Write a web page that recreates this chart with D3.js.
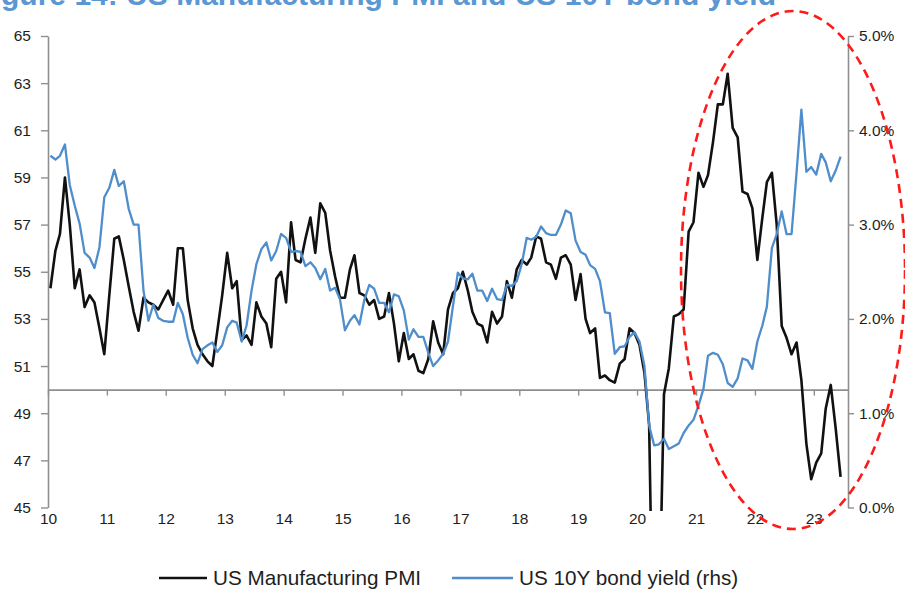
<!DOCTYPE html>
<html>
<head>
<meta charset="utf-8">
<script src="https://cdn.jsdelivr.net/npm/d3@7"></script>
<style>
  body { margin: 0; background: #fff; }
  svg { display: block; }
  .tick text, .lbl { font-family: "Liberation Sans", Arial, sans-serif; fill: #1e1e1e; }
</style>
</head>
<body>
<svg id="chart" width="905" height="592"></svg>
<script>
// Monthly series, Jan 2010 – Jun 2023
const firstYear = 2010;

// US Manufacturing PMI (index)
const pmi = [
  54.3, 55.9, 56.6, 59.0, 57.0, 54.3, 55.1, 53.5, 54.0, 53.7, 52.6, 51.5, // 2010
  54.0, 56.4, 56.5, 55.5, 54.4, 53.3, 52.5, 53.9, 53.7, 53.6, 53.4, 53.8, // 2011
  54.2, 53.6, 56.0, 56.0, 53.8, 52.6, 51.9, 51.5, 51.2, 51.0, 52.5, 54.0, // 2012
  55.8, 54.3, 54.6, 52.1, 52.3, 51.9, 53.7, 53.1, 52.8, 51.8, 54.7, 55.0, // 2013
  53.7, 57.1, 55.5, 55.4, 56.4, 57.3, 55.8, 57.9, 57.5, 55.9, 54.8, 53.9, // 2014
  53.9, 55.1, 55.7, 54.1, 54.0, 53.6, 53.8, 53.0, 53.1, 54.1, 52.8, 51.2, // 2015
  52.4, 51.3, 51.5, 50.8, 50.7, 51.3, 52.9, 52.0, 51.5, 53.4, 54.1, 54.3, // 2016
  55.0, 54.2, 53.3, 52.8, 52.7, 52.0, 53.3, 52.8, 53.1, 54.6, 53.9, 55.1, // 2017
  55.5, 55.3, 55.6, 56.5, 56.4, 55.4, 55.3, 54.7, 55.6, 55.7, 55.3, 53.8, // 2018
  54.9, 53.0, 52.4, 52.6, 50.5, 50.6, 50.4, 50.3, 51.1, 51.3, 52.6, 52.4, // 2019
  51.9, 50.7, 48.5, 36.1, 39.8, 49.8, 50.9, 53.1, 53.2, 53.4, 56.7, 57.1, // 2020
  59.2, 58.6, 59.1, 60.5, 62.1, 62.1, 63.4, 61.1, 60.7, 58.4, 58.3, 57.7, // 2021
  55.5, 57.3, 58.8, 59.2, 57.0, 52.7, 52.2, 51.5, 52.0, 50.4, 47.7, 46.2, // 2022
  46.9, 47.3, 49.2, 50.2, 48.4, 46.3                                      // 2023
];

// US 10Y Treasury yield (%, monthly average)
const bondYield = [
  3.73, 3.69, 3.73, 3.85, 3.42, 3.20, 3.01, 2.70, 2.65, 2.54, 2.76, 3.29, // 2010
  3.39, 3.58, 3.41, 3.46, 3.17, 3.00, 3.00, 2.30, 1.98, 2.15, 2.01, 1.98, // 2011
  1.97, 1.97, 2.17, 2.05, 1.80, 1.62, 1.53, 1.68, 1.72, 1.75, 1.65, 1.72, // 2012
  1.91, 1.98, 1.96, 1.76, 1.93, 2.30, 2.58, 2.74, 2.81, 2.62, 2.72, 2.90, // 2013
  2.86, 2.71, 2.72, 2.71, 2.56, 2.60, 2.54, 2.42, 2.53, 2.30, 2.33, 2.21, // 2014
  1.88, 1.98, 2.04, 1.94, 2.20, 2.36, 2.32, 2.17, 2.17, 2.07, 2.26, 2.24, // 2015
  2.09, 1.78, 1.89, 1.81, 1.81, 1.64, 1.50, 1.56, 1.63, 1.76, 2.14, 2.49, // 2016
  2.43, 2.42, 2.48, 2.30, 2.30, 2.19, 2.32, 2.21, 2.20, 2.36, 2.35, 2.40, // 2017
  2.58, 2.86, 2.84, 2.87, 2.98, 2.91, 2.89, 2.89, 3.00, 3.15, 3.12, 2.83, // 2018
  2.71, 2.68, 2.57, 2.53, 2.40, 2.07, 2.06, 1.63, 1.70, 1.71, 1.81, 1.86, // 2019
  1.76, 1.50, 0.87, 0.66, 0.67, 0.73, 0.62, 0.65, 0.68, 0.79, 0.87, 0.93, // 2020
  1.08, 1.26, 1.61, 1.64, 1.62, 1.52, 1.32, 1.28, 1.37, 1.58, 1.56, 1.47, // 2021
  1.76, 1.93, 2.13, 2.75, 2.90, 3.14, 2.90, 2.90, 3.55, 4.22, 3.56, 3.61, // 2022
  3.53, 3.75, 3.66, 3.46, 3.57, 3.72                                      // 2023
];

const yearLabels = ["10","11","12","13","14","15","16","17","18","19","20","21","22","23"];
const pmiTicks = [45, 47, 49, 51, 53, 55, 57, 59, 61, 63, 65];
const yieldTicks = [0, 1, 2, 3, 4, 5];
const pmiBaseline = 50;

const seriesNames = ["US Manufacturing PMI", "US 10Y bond yield (rhs)"];
const seriesColors = ["#111111", "#4f8dcb"];
const titleText = "Figure 14: US Manufacturing PMI and US 10Y bond yield";

// ---- layout ----
const svg = d3.select("#chart");
const plot = { left: 48, right: 848, top: 36, bottom: 507.5 };
const axisGrey = "#8f8f8f";

const monthDate = i => new Date(Date.UTC(firstYear, i, 16));
const x = d3.scaleUtc()
  .domain([new Date(Date.UTC(firstYear, 0, 1)), new Date(Date.UTC(2023, 7, 1))])
  .range([plot.left, plot.right]);
const yL = d3.scaleLinear().domain([45, 65]).range([plot.bottom, plot.top]);
const yR = d3.scaleLinear().domain([0, 5]).range([plot.bottom, plot.top]);

// title: large heading whose upper part runs off the top edge
const title = svg.append("text")
  .attr("x", 776).attr("y", 5)
  .attr("text-anchor", "end")
  .style("font-family", "'Liberation Sans', Arial, sans-serif")
  .style("font-weight", "bold")
  .style("font-size", "25px")
  .style("fill", "#5a97d3")
  .text(titleText);
const titleSpan = 802;
const measured = title.node().getComputedTextLength();
title.style("font-size", (25 * titleSpan / measured).toFixed(2) + "px");

// clip for the lines
svg.append("clipPath").attr("id", "plotClip")
  .append("rect").attr("x", plot.left).attr("y", 0)
  .attr("width", plot.right - plot.left + 2).attr("height", 511);

// left axis
const leftAxis = svg.append("g")
  .attr("transform", `translate(${plot.left},0)`)
  .call(d3.axisLeft(yL).tickValues(pmiTicks).tickSize(7).tickSizeOuter(0).tickPadding(10).tickFormat(d3.format("d")));

// right axis
const rightAxis = svg.append("g")
  .attr("transform", `translate(${plot.right},0)`)
  .call(d3.axisRight(yR).tickValues(yieldTicks).tickSize(6).tickSizeOuter(0).tickPadding(5)
    .tickFormat(d => d3.format(".1f")(d) + "%"));

// category axis along the 50 line
const yearDates = yearLabels.map((_, k) => new Date(Date.UTC(firstYear + k, 0, 1)));
const xAxis = svg.append("g")
  .attr("transform", `translate(0,${yL(pmiBaseline)})`)
  .call(d3.axisBottom(x).tickValues(yearDates).tickSize(6).tickSizeOuter(0).tickPadding(117)
    .tickFormat((d, k) => yearLabels[k]));

[leftAxis, rightAxis, xAxis].forEach(g => {
  g.selectAll(".domain").attr("stroke", axisGrey).attr("stroke-width", 1.6);
  g.selectAll(".tick line").attr("stroke", axisGrey).attr("stroke-width", 1.4);
  g.selectAll(".tick text").style("font-size", "15.5px").style("fill", "#1e1e1e");
});

// series lines
const lines = svg.append("g").attr("clip-path", "url(#plotClip)");
const pmiLine = d3.line().x((d, i) => x(monthDate(i))).y(d => yL(d));
const yieldLine = d3.line().x((d, i) => x(monthDate(i))).y(d => yR(d));

lines.append("path").datum(pmi)
  .attr("d", pmiLine).attr("fill", "none")
  .attr("stroke", seriesColors[0]).attr("stroke-width", 2.6)
  .attr("stroke-linejoin", "round");
lines.append("path").datum(bondYield)
  .attr("d", yieldLine).attr("fill", "none")
  .attr("stroke", seriesColors[1]).attr("stroke-width", 2.3)
  .attr("stroke-linejoin", "round");

// highlight ring around the recent period
svg.append("ellipse")
  .attr("cx", 793).attr("cy", 270).attr("rx", 112).attr("ry", 259)
  .attr("fill", "none").attr("stroke", "#ff1a1a").attr("stroke-width", 2.6)
  .attr("stroke-dasharray", "9 6");

// legend
const legendY = 578;
const legendItems = [
  { x0: 159, x1: 207, tx: 213 },
  { x0: 452, x1: 513, tx: 519 }
];
legendItems.forEach((it, k) => {
  svg.append("line").attr("x1", it.x0).attr("x2", it.x1)
    .attr("y1", legendY).attr("y2", legendY)
    .attr("stroke", seriesColors[k]).attr("stroke-width", 2.6);
  svg.append("text").attr("class", "lbl")
    .attr("x", it.tx).attr("y", legendY + 7)
    .style("font-size", "20.7px")
    .text(seriesNames[k]);
});
</script>
</body>
</html>
